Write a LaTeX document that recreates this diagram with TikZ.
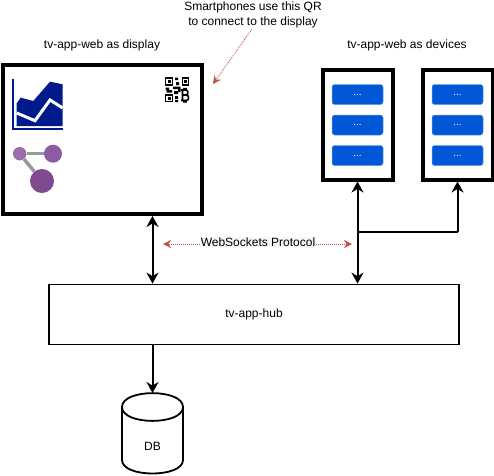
\documentclass[tikz,border=0pt]{standalone}
\usepackage{fontspec}
\setmainfont{Liberation Sans}
\usepackage{xcolor}
\usepackage{tikz}
\usetikzlibrary{positioning,arrows.meta}

\definecolor{btnblue}{HTML}{0057D8}
\definecolor{btnedge}{HTML}{6C9BE8}
\definecolor{notered}{HTML}{B85450}
\definecolor{chartnavy}{HTML}{001A8C}
\definecolor{dotlight}{HTML}{9B6BAB}
\definecolor{dotmid}{HTML}{8D5B9F}
\definecolor{dotdark}{HTML}{7E4A90}

\begin{document}
\begin{tikzpicture}[
    x=1pt, y=-1pt,
    font=\fontsize{12}{15}\selectfont,
    screen/.style={draw, line width=4pt, fill=white, minimum width=70pt, minimum height=110pt, inner sep=0pt},
    btn/.style={draw=btnedge, fill=btnblue, rounded corners=2.5pt, line width=0.5pt, minimum width=51pt, minimum height=20pt, inner sep=0pt, text=white, font=\fontsize{10}{10}\selectfont},
    service/.style={draw, line width=1.8pt, fill=white, minimum width=410pt, minimum height=60pt, inner sep=0pt},
    store/.style={minimum width=61pt, minimum height=81pt, inner sep=0pt, outer sep=0pt},
    caption/.style={align=center, inner sep=1pt},
    arrow/.style={line width=2pt, {Stealth[length=11pt,width=12pt]}-{Stealth[length=11pt,width=12pt]}},
    link/.style={line width=1.8pt},
    oneway/.style={line width=2pt, -{Stealth[length=11pt,width=12pt]}},
    note/.style={notered, line width=0.8pt, dash pattern=on 1pt off 1pt, -{Stealth[length=8pt,width=8pt]}},
    dot/.style={circle, inner sep=0pt}
  ]
    \useasboundingbox (0,0) rectangle (494,475);

    \node[screen, minimum width=199pt, minimum height=149pt] (display) at (102.5,139.5) {};
    \node[screen] (dev1) at (357.5,124.5) {};
    \node[screen, right=26pt of dev1] (dev2) {};

    \node[btn] (dev1a) at (357.5,94.5) {...};
    \node[btn, below=10pt of dev1a] (dev1b) {...};
    \node[btn, below=10pt of dev1b] (dev1c) {...};
    \node[btn, at={(dev1a -| dev2)}] (dev2a) {...};
    \node[btn, below=10pt of dev2a] (dev2b) {...};
    \node[btn, below=10pt of dev2b] (dev2c) {...};

    \node[service] (hub) at (254,314.5) {tv-app-hub};

    % cylinder
    \node[store] (db) at (152.5,433.5) {};
    \draw[link, fill=white] (122,407) .. controls (122,388.5) and (183,388.5) .. (183,407) -- (183,460) .. controls (183,478) and (122,478) .. (122,460) -- cycle;
    \draw[link] (122,407) .. controls (122,425.5) and (183,425.5) .. (183,407);
    \node (dbtext) at (152.5,446) {DB};

    \node[caption] (disptitle) at (102,45) {tv-app-web as display};
    \node[caption] (devtitle) at (407,45) {tv-app-web as devices};
    \node[caption] (qrnote) at (253,15) {Smartphones use this QR\\to connect to the display};
    \node[caption, fill=black!3] (wslabel) at (258,242) {WebSockets Protocol};

    % chart icon
    \fill[chartnavy] (16.7,103.3) -- (20.7,97.7) -- (33.3,101) -- (50,81.7) -- (62.7,84.3) -- (62.7,126) -- (16.7,126) -- cycle;
    \draw[white, line width=3pt] (16.7,113) -- (35,120.7) -- (50,100) -- (62.7,108);
    \draw[chartnavy, line width=1.2pt] (13,79) -- (13,129) -- (62.7,129);

    % graph icon
    \node[dot, fill=dotlight, minimum size=13.5pt] (gsmall) at (19.7,153.7) {};
    \node[dot, fill=dotmid, minimum size=18pt] (gmid) at (53,153.7) {};
    \node[dot, fill=dotdark, minimum size=24pt] (gbig) at (42,181) {};
    \draw[black!40, line width=3.5pt] (gsmall) -- (gmid);
    \draw[black!40, line width=3.5pt] (gsmall) -- (gbig);

    % qr icon
    \draw[line width=1.4pt] (165.7,78) rectangle (172.6,85);
    \fill (167.7,80) rectangle (170.6,83);
    \draw[line width=1.4pt] (182.4,78) rectangle (188.6,85);
    \fill (184.2,80) rectangle (186.8,83);
    \draw[line width=1.4pt] (165.7,95) rectangle (172.6,101.5);
    \fill (167.7,97) rectangle (170.6,99.5);
    \fill (175,77.5) rectangle (178,80) (176,82) rectangle (179,85) (173,86.5) rectangle (180,89)
      (165.5,87.5) rectangle (169,90) (166.5,90) rectangle (172,92.5) (174,91) rectangle (178,94)
      (175,96) rectangle (178,99) (175,100) rectangle (178,102) (178,87) rectangle (180.5,92);
    \draw[line width=1.6pt] (182.5,90) -- (182.5,100.5) (182.5,90) -- (186,90) .. controls (188.5,90) and (188.5,95) .. (186,95) -- (182.5,95)
      (186,95) .. controls (189.5,95) and (189.5,100.5) .. (186,100.5) -- (181,100.5) (181,90) -- (182.5,90)
      (184,87.8) -- (184,89.5) (186,87.8) -- (186,89.5) (184,101) -- (184,102.5) (186,101) -- (186,102.5);

    \draw[arrow] (display.south -| db.north) -- (hub.north -| db.north);
    \draw[arrow] (dev1.south) -- (hub.north -| dev1.south);
    \coordinate (fork) at (357.5,232);
    \draw[link] (fork) -| (dev2.south);
    \draw[oneway] (fork -| dev2.south) -- (dev2.south);
    \draw[oneway] (hub.south -| db.north) -- (db.north);

    \coordinate (wsleft) at (163,244);
    \coordinate (wsright) at (352,244);
    \coordinate (qrtip) at (213,84);
    \draw[note] (wslabel.west |- wsleft) -- (wsleft);
    \draw[note] (wslabel.east |- wsright) -- (wsright);
    \draw[note] (qrnote.265) -- (qrtip);
  \end{tikzpicture}
\end{document}
